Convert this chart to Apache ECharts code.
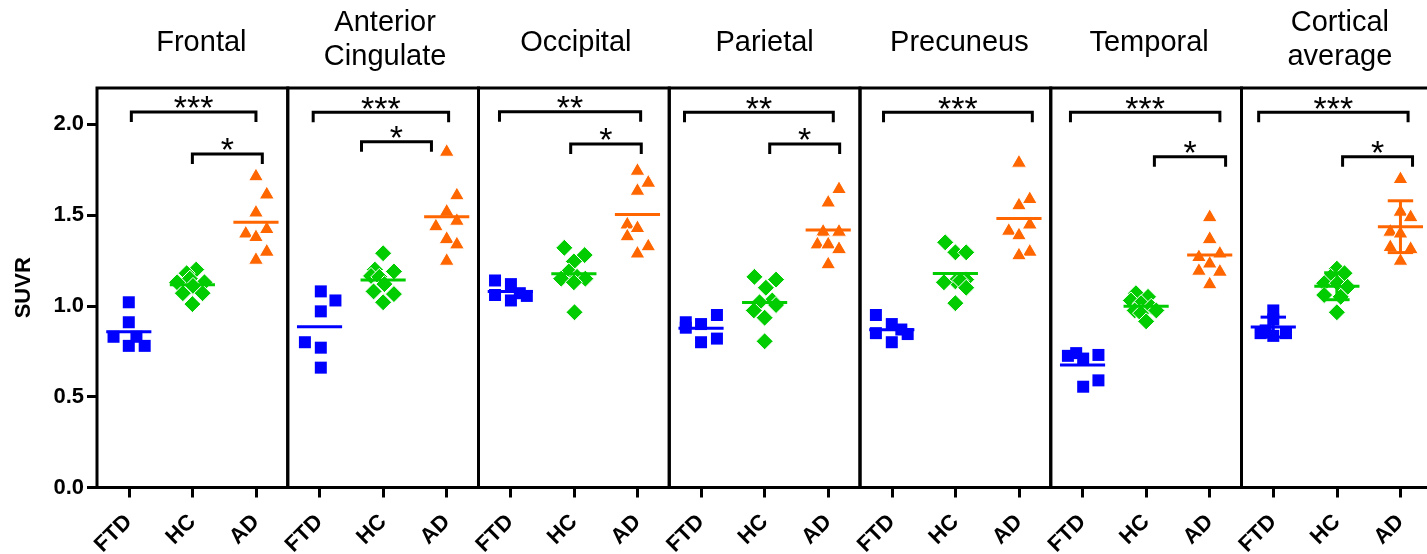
<!DOCTYPE html>
<html>
<head>
<meta charset="utf-8">
<script src="https://cdn.jsdelivr.net/npm/echarts@6/dist/echarts.min.js"></script>
<style>
  html, body { margin: 0; padding: 0; background: #fff; }
  #chart { width: 1427px; height: 554px; }
</style>
</head>
<body>
<div id="chart"></div>
<script>
// Regional SUVR by diagnostic group (FTD, HC, AD), one panel per region
const regions = ['Frontal', 'Anterior\nCingulate', 'Occipital', 'Parietal', 'Precuneus', 'Temporal', 'Cortical\naverage'];
const groups = ['FTD', 'HC', 'AD'];
const yTicks = [0, 0.5, 1.0, 1.5, 2.0];

const ftdValues = [
  [1.02, 0.91, 0.83, 0.83, 0.78, 0.78],
  [1.08, 1.03, 0.97, 0.80, 0.77, 0.66],
  [1.14, 1.12, 1.06, 1.03, 1.07, 1.055],
  [0.95, 0.91, 0.90, 0.88, 0.82, 0.80],
  [0.95, 0.90, 0.87, 0.85, 0.845, 0.80],
  [0.74, 0.73, 0.725, 0.71, 0.59, 0.555],
  [0.975, 0.925, 0.865, 0.85, 0.835, 0.85]
];
const ftdJitter = [
  [0, 0, -0.24, 0.12, 0, 0.25],
  [0.02, 0.25, 0.02, -0.23, 0.02, 0.02],
  [-0.24, 0.01, -0.24, 0.01, 0.15, 0.26],
  [0.25, -0.24, 0, -0.24, 0.25, 0],
  [-0.25, 0, 0.15, -0.25, 0.25, 0],
  [-0.1, 0.25, -0.23, 0.01, 0.25, 0.01],
  [0, 0, -0.12, -0.2, 0, 0.2]
];

const hcValues = [
  [1.20, 1.18, 1.15, 1.13, 1.13, 1.11, 1.07, 1.07, 1.01],
  [1.29, 1.20, 1.19, 1.165, 1.16, 1.12, 1.08, 1.065, 1.02],
  [1.32, 1.28, 1.245, 1.19, 1.16, 1.15, 1.15, 1.13, 0.965],
  [1.16, 1.145, 1.10, 1.03, 1.02, 1.005, 0.975, 0.935, 0.805],
  [1.35, 1.295, 1.295, 1.145, 1.135, 1.13, 1.14, 1.10, 1.015],
  [1.07, 1.05, 1.03, 1.015, 0.995, 0.975, 0.975, 0.96, 0.915],
  [1.205, 1.18, 1.16, 1.125, 1.125, 1.105, 1.06, 1.05, 0.965]
];
const hcJitter = [
  [0.06, -0.09, -0.04, -0.24, 0.19, 0.01, -0.15, 0.16, 0],
  [0, -0.13, 0.17, -0.19, -0.06, 0.02, -0.15, 0.17, 0],
  [-0.15, 0.17, 0, -0.08, 0.05, -0.2, 0.18, 0, 0.01],
  [-0.16, 0.18, 0.02, 0.12, -0.08, 0.18, -0.17, 0, 0],
  [-0.16, 0, 0.17, 0.17, 0, -0.18, 0.08, 0.17, 0],
  [-0.16, 0.03, -0.24, -0.08, 0.08, -0.18, 0.16, -0.08, 0],
  [0, 0.12, -0.1, -0.2, 0.01, 0.17, -0.2, 0.06, 0]
];

const adValues = [
  [1.725, 1.625, 1.525, 1.41, 1.435, 1.39, 1.31, 1.265],
  [1.86, 1.62, 1.53, 1.45, 1.48, 1.38, 1.35, 1.26],
  [1.755, 1.69, 1.645, 1.46, 1.44, 1.395, 1.34, 1.30],
  [1.655, 1.58, 1.42, 1.42, 1.35, 1.35, 1.325, 1.24],
  [1.80, 1.60, 1.565, 1.46, 1.425, 1.40, 1.31, 1.29],
  [1.50, 1.38, 1.30, 1.28, 1.245, 1.205, 1.20, 1.13],
  [1.71, 1.53, 1.50, 1.42, 1.41, 1.335, 1.325, 1.26]
];
const adJitter = [
  [0, 0.17, 0, -0.16, 0.17, 0, 0.17, 0],
  [0, 0.16, 0, -0.17, 0.16, 0, 0.16, 0],
  [0, 0.17, 0, -0.16, 0, -0.16, 0.17, 0],
  [0.17, 0, -0.08, 0.17, -0.17, 0, 0.17, 0],
  [0, 0.17, 0, 0.17, -0.16, 0, 0.17, 0],
  [0, 0, 0.16, -0.17, 0, -0.17, 0.16, 0],
  [0, 0, 0.16, -0.16, 0, -0.16, 0.16, 0]
];

// Panels that also show mean ± SD whiskers
const showSD = [false, false, false, false, false, false, true];

// Significance brackets: panel, from, to (category units), height (SUVR), label
const bracketPanel = [0, 0, 1, 1, 2, 2, 3, 3, 4, 5, 5, 6, 6];
const bracketFrom  = [0.04, 1.0, -0.1, 0.66, -0.17, 0.95, -0.26, 1.08, -0.13, -0.19, 1.13, -0.23, 1.09];
const bracketTo    = [2.0, 2.1, 2.03, 1.76, 2.05, 2.06, 2.08, 2.18, 2.21, 2.16, 2.25, 2.12, 2.19];
const bracketY     = [2.068, 1.836, 2.066, 1.904, 2.069, 1.891, 2.066, 1.891, 2.066, 2.066, 1.822, 2.066, 1.822];
const bracketText  = ['***', '*', '***', '*', '**', '*', '**', '*', '***', '***', '*', '***', '*'];

// ---- layout / style ----
const FONT = '"Liberation Sans", Arial, sans-serif';
const groupColors = ['#0000ff', '#00cc00', '#ff6600'];
const panelLeft = 97, panelStep = 190.75, panelTop = 88, panelHeight = 399.5;
const titleShift = [9, 2, 2, 0, 4, 3, 3];

function mean(a) { return a.reduce((s, v) => s + v, 0) / a.length; }
function sd(a) {
  const m = mean(a);
  return Math.sqrt(a.reduce((s, v) => s + (v - m) * (v - m), 0) / (a.length - 1));
}

const grid = [], xAxis = [], yAxis = [], series = [], title = [];

regions.forEach((name, p) => {
  const left = panelLeft + p * panelStep;
  grid.push({
    left: left, top: panelTop, width: panelStep, height: panelHeight,
    show: true, borderColor: '#000', borderWidth: 3, backgroundColor: 'transparent',
    containLabel: false, outerBoundsMode: 'none'
  });
  const lines = name.split('\n').length;
  title.push({
    text: name,
    left: left + panelStep / 2 + titleShift[p],
    top: lines === 2 ? 6 : 26,
    textAlign: 'center',
    padding: 0,
    textStyle: { fontFamily: FONT, fontSize: 29, fontWeight: 'normal', color: '#000', lineHeight: 34 }
  });
  // visible category axis (labels + ticks)
  xAxis.push({
    type: 'category', gridIndex: p, data: groups, boundaryGap: true,
    axisLine: { show: false, onZero: false },
    axisTick: { show: true, alignWithLabel: true, length: 10, lineStyle: { color: '#000', width: 3 } },
    axisLabel: { interval: 0, rotate: 45, margin: 31, fontSize: 22, fontWeight: 'bold', fontFamily: FONT, color: '#000' },
    splitLine: { show: false }
  });
  // hidden numeric axis used to place jittered points, mean bars and brackets
  xAxis.push({ type: 'value', gridIndex: p, min: -0.5, max: 2.5, show: false, axisLine: { onZero: false } });
  yAxis.push({
    type: 'value', gridIndex: p, min: 0, max: 2.2, interval: 0.5, position: 'left',
    axisLine: { show: false, onZero: false },
    axisTick: { show: p === 0, length: 10, customValues: yTicks, lineStyle: { color: '#000', width: 3 } },
    axisLabel: { show: p === 0, customValues: yTicks, margin: 13, formatter: v => v.toFixed(1),
                 fontSize: 22, fontWeight: 'bold', fontFamily: FONT, color: '#000' },
    splitLine: { show: false },
    name: p === 0 ? 'SUVR' : '', nameLocation: 'middle', nameGap: 62,
    nameTextStyle: { fontSize: 22, fontWeight: 'bold', fontFamily: FONT, color: '#000' }
  });

  const xi = 2 * p + 1;
  const sets = [
    { vals: ftdValues[p], jit: ftdJitter[p], symbol: 'rect', size: 12, border: 0 },
    { vals: hcValues[p], jit: hcJitter[p], symbol: 'diamond', size: 17, border: 1 },
    { vals: adValues[p], jit: adJitter[p], symbol: 'triangle', size: [15, 13], border: 1 }
  ];
  sets.forEach((s, g) => {
    series.push({
      type: 'scatter', xAxisIndex: xi, yAxisIndex: p,
      symbol: s.symbol, symbolSize: s.size,
      itemStyle: { color: groupColors[g], opacity: 1, borderColor: '#fff', borderWidth: s.border },
      data: s.vals.map((v, k) => [g + s.jit[k], v]),
      silent: true, z: 2
    });
  });

  // group mean bars (plus SD whiskers where requested)
  const stats = sets.map((s, g) => [g, mean(s.vals), showSD[p] ? sd(s.vals) : 0]);
  series.push({
    type: 'custom', xAxisIndex: xi, yAxisIndex: p, z: 3, silent: true,
    data: stats,
    renderItem: (params, api) => {
      const g = api.value(0), m = api.value(1), e = api.value(2);
      const c = groupColors[g];
      const a = api.coord([g - 0.355, m]), b = api.coord([g + 0.355, m]);
      const children = [{
        type: 'line', shape: { x1: a[0], y1: a[1], x2: b[0], y2: b[1] },
        style: { stroke: c, lineWidth: 3 }
      }];
      if (e > 0) {
        const top = api.coord([g, m + e]), bot = api.coord([g, m - e]);
        const cw = api.coord([g + 0.2, m])[0] - api.coord([g, m])[0];
        children.push(
          { type: 'line', shape: { x1: top[0], y1: top[1], x2: bot[0], y2: bot[1] }, style: { stroke: c, lineWidth: 3 } },
          { type: 'line', shape: { x1: top[0] - cw, y1: top[1], x2: top[0] + cw, y2: top[1] }, style: { stroke: c, lineWidth: 3 } },
          { type: 'line', shape: { x1: bot[0] - cw, y1: bot[1], x2: bot[0] + cw, y2: bot[1] }, style: { stroke: c, lineWidth: 3 } }
        );
      }
      return { type: 'group', children: children };
    }
  });

  // significance brackets for this panel
  const idx = bracketPanel.map((bp, k) => bp === p ? k : -1).filter(k => k >= 0);
  series.push({
    type: 'custom', xAxisIndex: xi, yAxisIndex: p, z: 4, silent: true,
    data: idx.map(k => [bracketFrom[k], bracketTo[k], bracketY[k]]),
    renderItem: (params, api) => {
      const k = idx[params.dataIndex];
      const x1 = api.value(0), x2 = api.value(1), y = api.value(2);
      const leg = 0.055;
      const pts = [[x1, y - leg], [x1, y], [x2, y], [x2, y - leg]].map(q => api.coord(q));
      const mid = api.coord([(x1 + x2) / 2, y]);
      return {
        type: 'group',
        children: [
          { type: 'polyline', shape: { points: pts }, style: { stroke: '#000', lineWidth: 3, fill: null } },
          { type: 'text', x: mid[0], y: mid[1] + 15,
            style: { text: bracketText[k], align: 'center', verticalAlign: 'bottom',
                     font: '34px ' + FONT, fill: '#000' } }
        ]
      };
    }
  });
});

const chart = echarts.init(document.getElementById('chart'), null, { renderer: 'canvas' });
chart.setOption({
  animation: false,
  backgroundColor: '#fff',
  title: title,
  grid: grid,
  xAxis: xAxis,
  yAxis: yAxis,
  series: series
});
</script>
</body>
</html>
